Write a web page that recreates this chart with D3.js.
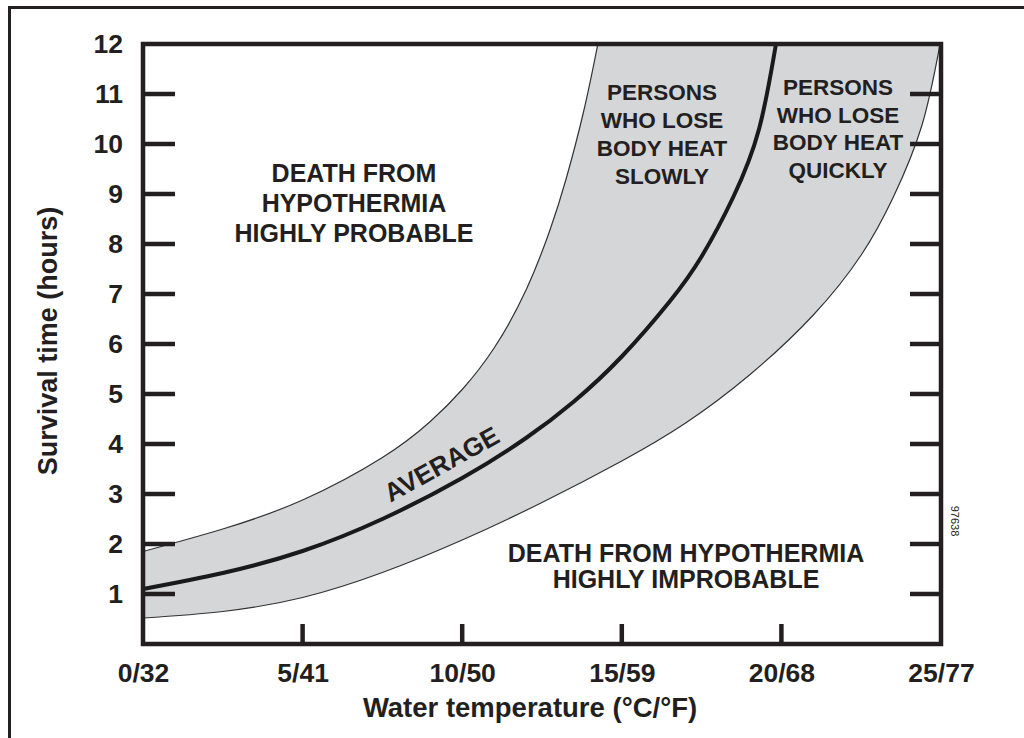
<!DOCTYPE html>
<html>
<head>
<meta charset="utf-8">
<script src="https://cdn.jsdelivr.net/npm/d3@7"></script>
<style>
  html, body { margin: 0; padding: 0; background: #fff; }
  svg { display: block; }
  text { font-family: "Liberation Sans", Arial, Helvetica, sans-serif; fill: #231f20; }
</style>
</head>
<body>
<svg id="chart" width="1024" height="738"></svg>
<script>
// Survival time in cold water: band between fast and slow heat loss, plus the average curve.
const xTicks = [0, 5, 10, 15, 20, 25];
const xTickLabels = ["0/32", "5/41", "10/50", "15/59", "20/68", "25/77"];
const yTicks = [1, 2, 3, 4, 5, 6, 7, 8, 9, 10, 11, 12];

// Upper edge of the band (°C, hours)
const upperTemp  = [0, 2.5, 5, 7.5, 9, 10, 11, 12, 12.75, 13.25, 13.8, 14.25];
const upperHours = [1.85, 2.3, 2.88, 3.73, 4.45, 5.09, 5.92, 7.08, 8.28, 9.29, 10.64, 12];

// Average survival curve
const avgTemp  = [0, 2.5, 5, 7.5, 10, 12, 13.5, 15, 16.5, 17.5, 18.5, 19.3, 19.83];
const avgHours = [1.1, 1.42, 1.86, 2.5, 3.32, 4.12, 4.85, 5.75, 6.85, 7.75, 8.95, 10.3, 12];

// Lower edge of the band
const lowerTemp  = [0, 2.5, 5, 7.5, 10, 12.5, 15, 17, 19, 21, 22.5, 23.5, 24.4, 24.97];
const lowerHours = [0.52, 0.65, 0.93, 1.43, 2.08, 2.83, 3.66, 4.42, 5.38, 6.58, 7.78, 8.93, 10.37, 12];

const zip = (xs, ys) => xs.map((t, i) => [t, ys[i]]);
const upper = zip(upperTemp, upperHours);
const average = zip(avgTemp, avgHours);
const lower = zip(lowerTemp, lowerHours);

const svg = d3.select("#chart");
const ink = "#231f20";
const band = "#d5d6d8";

// outer frame
svg.append("rect")
  .attr("x", 9.5).attr("y", 7.5).attr("width", 1100).attr("height", 900)
  .attr("fill", "none").attr("stroke", ink).attr("stroke-width", 3);

const x = d3.scaleLinear().domain([0, 25]).range([143, 941]);
const y = d3.scaleLinear().domain([0, 12]).range([644, 44]);

const curve = d3.curveNatural;
const line = d3.line().x(d => x(d[0])).y(d => y(d[1])).curve(curve);
const areaBelow = d3.area().x(d => x(d[0])).y0(y(0)).y1(d => y(d[1])).curve(curve);

const plot = svg.append("g");

// shaded band: everything under the upper edge, then cleared under the lower edge
const upperEnd = upperTemp[upperTemp.length - 1];
plot.append("path").attr("d", areaBelow(upper)).attr("fill", band);
plot.append("rect")
  .attr("x", x(upperEnd) - 0.5).attr("y", y(12))
  .attr("width", x(25) - x(upperEnd) + 0.5).attr("height", y(0) - y(12))
  .attr("fill", band);
plot.append("path").attr("d", areaBelow(lower)).attr("fill", "#fff");

// band edges
plot.append("path").attr("d", line(upper))
  .attr("fill", "none").attr("stroke", "#333").attr("stroke-width", 1.2);
plot.append("path").attr("d", line(lower))
  .attr("fill", "none").attr("stroke", "#333").attr("stroke-width", 1.2);

// average curve
plot.append("path").attr("d", line(average))
  .attr("fill", "none").attr("stroke", "#1a1a1a").attr("stroke-width", 4);

// axes
const axisW = 4.5;
const labelFont = 26.5;
const yLeft = d3.axisLeft(y).tickValues(yTicks).tickSize(0).tickPadding(20);
const gL = svg.append("g").attr("transform", `translate(${x(0)},0)`).call(yLeft);
gL.select(".domain").remove();
gL.selectAll("text").attr("font-size", labelFont).attr("font-weight", "bold").attr("fill", ink)
  .attr("font-family", "Liberation Sans, Arial, sans-serif");

// inward tick marks, left and right
const innerTicks = yTicks.filter(v => v < 12);
svg.append("g").selectAll("line").data(innerTicks).join("line")
  .attr("x1", x(0)).attr("x2", x(0) + 32)
  .attr("y1", d => y(d)).attr("y2", d => y(d))
  .attr("stroke", ink).attr("stroke-width", axisW);
svg.append("g").selectAll("line").data(innerTicks).join("line")
  .attr("x1", x(25)).attr("x2", x(25) - 31)
  .attr("y1", d => y(d)).attr("y2", d => y(d))
  .attr("stroke", ink).attr("stroke-width", axisW);

const xAxis = d3.axisBottom(x).tickValues(xTicks)
  .tickFormat((d, i) => xTickLabels[i]).tickSize(0).tickPadding(19);
const gB = svg.append("g").attr("transform", `translate(0,${y(0)})`).call(xAxis);
gB.select(".domain").remove();
gB.selectAll("text").attr("font-size", labelFont).attr("font-weight", "bold").attr("fill", ink)
  .attr("font-family", "Liberation Sans, Arial, sans-serif");

svg.append("g").selectAll("line").data(xTicks.filter(v => v > 0 && v < 25)).join("line")
  .attr("x1", d => x(d)).attr("x2", d => x(d))
  .attr("y1", y(0)).attr("y2", y(0) - 20)
  .attr("stroke", ink).attr("stroke-width", axisW);

// plot frame
svg.append("rect")
  .attr("x", x(0)).attr("y", y(12))
  .attr("width", x(25) - x(0)).attr("height", y(0) - y(12))
  .attr("fill", "none").attr("stroke", ink).attr("stroke-width", axisW);

// axis titles
svg.append("text")
  .attr("transform", `translate(57,341) rotate(-90)`)
  .attr("text-anchor", "middle")
  .attr("font-size", 27).attr("font-weight", "bold")
  .text("Survival time (hours)");
svg.append("text")
  .attr("x", 530).attr("y", 717)
  .attr("text-anchor", "middle")
  .attr("font-size", 27.5).attr("font-weight", "bold")
  .text("Water temperature (°C/°F)");

// region labels
function block(lines, cx, firstBaseline, step, size) {
  const t = svg.append("text").attr("text-anchor", "middle")
    .attr("font-size", size).attr("font-weight", "bold");
  lines.forEach((s, i) => {
    t.append("tspan").attr("x", cx).attr("y", firstBaseline + i * step).text(s);
  });
}
block(["DEATH FROM", "HYPOTHERMIA", "HIGHLY PROBABLE"], 354, 182, 30, 25);
block(["PERSONS", "WHO LOSE", "BODY HEAT", "SLOWLY"], 662, 100, 28, 22.5);
block(["PERSONS", "WHO LOSE", "BODY HEAT", "QUICKLY"], 838, 95, 27.5, 22.5);
block(["DEATH FROM HYPOTHERMIA", "HIGHLY IMPROBABLE"], 686, 562, 26, 25);

// label riding on the average curve
svg.append("text")
  .attr("transform", `translate(446,472) rotate(-29)`)
  .attr("text-anchor", "middle")
  .attr("font-size", 26).attr("font-weight", "bold")
  .text("AVERAGE");

// figure number
svg.append("text")
  .attr("transform", `translate(951,521) rotate(90)`)
  .attr("text-anchor", "middle")
  .attr("font-size", 11)
  .text("97638");
</script>
</body>
</html>
